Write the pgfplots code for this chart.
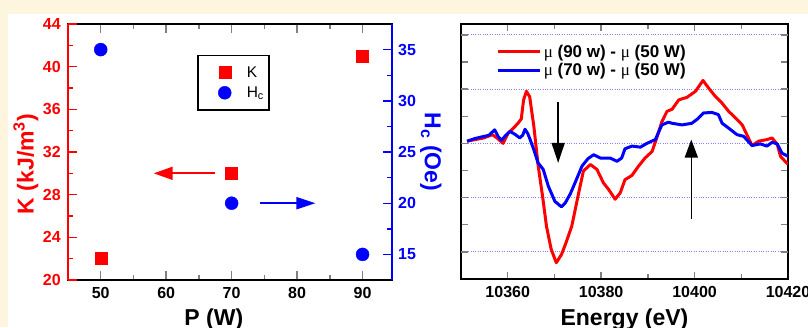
\documentclass[border=0pt]{standalone}
\usepackage{fontspec}
\setmainfont{Liberation Sans}
\newfontfamily\serifmu{Liberation Serif}
\usepackage{pgfplots}
\pgfplotsset{compat=1.18}
\usetikzlibrary{arrows.meta}
\definecolor{cream}{RGB}{253,245,221}
\definecolor{gridblue}{RGB}{130,130,255}
\newcommand{\mmu}{{\serifmu\mdseries μ}}
\pgfplotsset{
  common/.style={
    scale only axis,
    anchor=south west,
    /pgf/number format/assume math mode=true,
    /pgf/number format/1000 sep={},
    scaled ticks=false,
    tick label style={font=\bfseries\fontsize{16}{16}\selectfont},
    label style={font=\bfseries\fontsize{23}{23}\selectfont},
    tick style={line width=1.4pt},
    major tick length=9pt,
    minor tick length=5pt,
    tick align=inside,
    axis line style={line width=2pt},
  },
  lp/.style={common, at={(68pt,47pt)}, width=324pt, height=256pt, xmin=45, xmax=94.5},
}
\begin{document}
\begin{tikzpicture}
\useasboundingbox (0pt,0pt) rectangle (808pt,327pt);
\clip (0pt,0pt) rectangle (808pt,327pt);
\fill[cream] (0pt,0pt) rectangle (808pt,327pt);
\fill[white] (8pt,0pt) rectangle (808pt,313pt);
% base box of left panel
\begin{axis}[lp, ymin=20, ymax=44, ytick=\empty,
  xtick={50,60,70,80,90}, minor xtick={55,65,75,85},
  xticklabel style={yshift=-4pt},
  xlabel={P (W)},
  xlabel style={at={(axis description cs:0.45,0)}, anchor=north, yshift=-29pt, inner sep=0pt},
]
\end{axis}
% K axis
\begin{axis}[lp, ymin=20, ymax=44,
  axis y line*=left, axis x line=none,
  ytick={20,24,...,44}, minor ytick={22,26,...,42},
  axis line style={red}, tick style={red}, yticklabel style={red, xshift=-3.7pt},
  ylabel={K (kJ/m\textsuperscript{3})},
  ylabel style={red, at={(axis description cs:-0.13,0.453)}, anchor=center},
]
\addplot[only marks, mark=square*, mark size=6pt, red] coordinates {(50,22) (70,30) (90,41)};
\draw[red, line width=1.8pt, -{Triangle[length=19pt,width=13pt]}] (axis cs:67.5,30) -- (axis cs:58.1,30);
\end{axis}
% Hc axis
\begin{axis}[lp, ymin=12.5, ymax=37.5,
  axis y line*=right, axis x line=none,
  ytick={15,20,...,35}, minor ytick={17.5,22.5,27.5,32.5},
  axis line style={blue}, tick style={blue}, yticklabel style={blue, xshift=2.7pt},
  ylabel={H\textsubscript{c} (Oe)},
  ylabel style={blue, at={(axis description cs:1.12,0.5)}, anchor=center, rotate=180},
  legend style={draw=black, line width=1.6pt, at={(axis description cs:0.398,0.88)}, anchor=north west,
    font=\fontsize{15.5}{16}\selectfont, row sep=4pt, inner xsep=3pt, inner ysep=9pt, cells={anchor=west}},
  legend image code/.code={\path[draw=none, fill=none] (0pt,-6pt) rectangle (44pt,6pt); \draw[#1] plot coordinates {(24pt,0pt)};},
]
\addlegendimage{only marks, mark=square*, mark size=6pt, red, line width=0.4pt}
\addlegendentry{K}
\addplot[only marks, mark=*, mark size=6.5pt, blue, line width=0.4pt] coordinates {(50,35) (70,20) (90,15)};
\addlegendentry{H\textsubscript{c}}
\draw[blue, line width=1.8pt, -{Triangle[length=19pt,width=12pt]}] (axis cs:74.3,20) -- (axis cs:82.8,20);
\end{axis}
% right panel
\begin{axis}[common, at={(461pt,48pt)}, width=327pt, height=255pt,
  xmin=10350, xmax=10420, ymin=-2.5, ymax=2.2,
  xtick={10360,10380,10400,10420}, minor xtick={10350,10370,10390,10410},
  ytick={-2,-1.5,...,2}, yticklabels={}, major tick length=7pt,
  extra y ticks={-2,-1,0,1,2}, extra y tick labels={},
  extra y tick style={grid=major, major grid style={gridblue, dotted, line width=1pt}},
  xticklabel style={yshift=-4pt},
  xlabel={Energy (eV)},
  xlabel style={at={(axis description cs:0.5,0)}, anchor=north, yshift=-30pt, inner sep=0pt},
  legend style={draw=none, fill=none, at={(axis description cs:0.098,0.935)}, anchor=north west,
    font=\bfseries\fontsize{17}{17}\selectfont, row sep=1pt, cells={anchor=west}},
  legend image code/.code={\draw[#1, line width=3.5pt] (0pt,0pt) -- (42pt,0pt);},
]
\addplot[red, line width=3pt, line join=round] coordinates {
(10351.3,0.04) (10353,0.07) (10354.9,0.10) (10356.7,0.16) (10357.7,0.10) (10359.0,0.00)
(10360.1,0.19) (10361.2,0.28) (10362.2,0.37) (10362.9,0.45) (10363.4,0.80) (10364.0,0.96)
(10364.7,0.86) (10365.6,0.31) (10366.5,-0.40) (10367.5,-1.0) (10368.3,-1.53) (10369.3,-1.95)
(10370.4,-2.2) (10371.5,-2.05) (10372.4,-1.85) (10373.7,-1.53) (10375.2,-0.91) (10376.2,-0.51)
(10377.7,-0.39) (10379.1,-0.48) (10380.5,-0.73) (10381.6,-0.85) (10383.0,-1.03) (10384.1,-0.91)
(10385.1,-0.67) (10386.6,-0.59) (10388.0,-0.42) (10389.4,-0.27) (10390.9,-0.15) (10391.9,0.10)
(10393.0,0.40) (10394.1,0.59) (10395.2,0.63) (10396.6,0.80) (10398.4,0.85) (10400.2,0.96)
(10401.8,1.16) (10403.0,1.02) (10404.5,0.86) (10405.9,0.74) (10407.3,0.59) (10409.1,0.44)
(10410.2,0.34) (10411.2,0.16) (10412.3,-0.04) (10413.7,0.04) (10415.5,0.07) (10416.6,0.10)
(10417.7,-0.02) (10418.4,-0.24) (10419.8,-0.37) (10420,-0.38)
};
\addlegendentry{\mmu{} (90 w) - \mmu{} (50 W)}
\addplot[blue, line width=3pt, line join=round] coordinates {
(10351.3,0.04) (10353,0.09) (10354.5,0.12) (10356.0,0.15) (10357.2,0.25) (10358.0,0.12)
(10358.7,0.06) (10359.6,0.15) (10360.5,0.22) (10361.5,0.17) (10362.6,0.10) (10363.2,0.15)
(10363.7,0.26) (10364.3,0.18) (10364.8,0.07) (10365.6,-0.12) (10366.5,-0.36) (10367.6,-0.48)
(10368.7,-0.79) (10370.1,-1.07) (10371.5,-1.17) (10372.3,-1.10) (10373.4,-0.93) (10374.4,-0.73)
(10375.9,-0.42) (10377.2,-0.28) (10378.4,-0.21) (10379.8,-0.27) (10381.9,-0.27) (10383.4,-0.33)
(10384.4,-0.27) (10385.1,-0.10) (10386.6,-0.05) (10388.4,-0.07) (10389.8,0.0) (10391.6,0.07)
(10393.0,0.34) (10394.4,0.39) (10395.2,0.37) (10397.3,0.34) (10399.4,0.37) (10400.5,0.44)
(10401.9,0.56) (10403.7,0.57) (10405.1,0.53) (10405.9,0.37) (10407.3,0.28) (10409.1,0.16)
(10410.5,0.13) (10412.3,-0.04) (10414.1,-0.01) (10415.5,-0.05) (10416.6,0.02) (10417.7,-0.01)
(10418.7,-0.18) (10419.8,-0.23) (10420,-0.23)
};
\addlegendentry{\mmu{} (70 w) - \mmu{} (50 W)}
\draw[black, line width=1.6pt, -{Triangle[length=20pt,width=13pt]}] (axis cs:10370.8,0.77) -- (axis cs:10370.8,-0.36);
\draw[black, line width=1.6pt, -{Triangle[length=18pt,width=13pt]}] (axis cs:10399.3,-1.39) -- (axis cs:10399.3,0.07);
\end{axis}
\end{tikzpicture}
\end{document}
